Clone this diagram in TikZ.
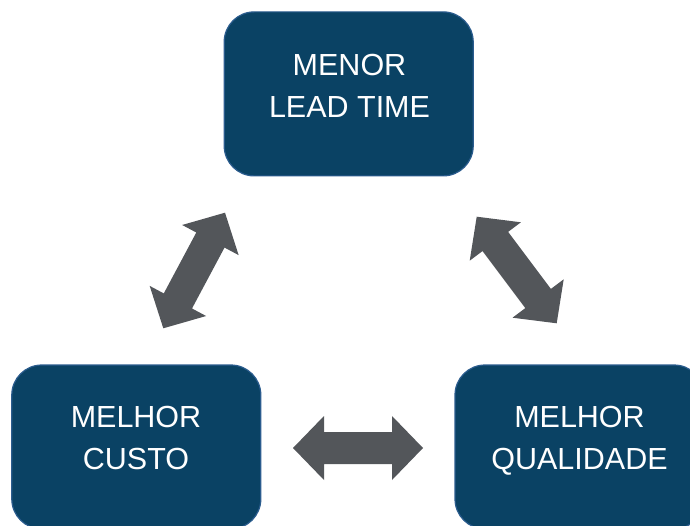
\documentclass[tikz,border=0pt]{standalone}
\usepackage{fontspec}
\setmainfont{Liberation Sans}
\usetikzlibrary{calc}

\definecolor{boxfill}{HTML}{0A4264}
\definecolor{boxedge}{HTML}{2B5C8E}
\definecolor{arrowgray}{HTML}{53565A}

\tikzset{
  goalbox/.style={draw=boxedge, line width=1.2pt, fill=boxfill, rounded corners=30pt,
    minimum width=249pt, minimum height=164pt, inner sep=0pt},
  goaltext/.style={text=white, align=center, inner sep=0pt, anchor=north,
    font=\fontsize{30.5}{41.5}\selectfont},
  arrowfill/.style={fill=arrowgray}
}

% block double arrow between two named coordinates
\newcommand{\blockdblarrow}[2]{%
  \fill[arrowfill] (#1)
    -- ($(#1)!31pt!(#2)!32pt!90:(#2)$)
    -- ($(#1)!31pt!(#2)!16pt!90:(#2)$)
    -- ($(#2)!31pt!(#1)!16pt!-90:(#1)$)
    -- ($(#2)!31pt!(#1)!32pt!-90:(#1)$)
    -- (#2)
    -- ($(#2)!31pt!(#1)!32pt!90:(#1)$)
    -- ($(#2)!31pt!(#1)!16pt!90:(#1)$)
    -- ($(#1)!31pt!(#2)!16pt!-90:(#2)$)
    -- ($(#1)!31pt!(#2)!32pt!-90:(#2)$)
    -- cycle;}

\begin{document}
\begin{tikzpicture}[x=1pt, y=-1pt]
  \useasboundingbox (0,0) rectangle (690,526);
  \clip (0,0) rectangle (690,526);

  % the three goals
  \node[goalbox] (lead) at (348.7,93.9) {};
  \node[goalbox] (cost) at (136.3,447) {};
  \node[goalbox] (quality) at (579.5,447) {};

  \node[goaltext] (leadtxt) at (349.5,54.5) {MENOR\\LEAD TIME};
  \node[goaltext] (costtxt) at (136,406.2) {MELHOR\\CUSTO};
  \node[goaltext] (qualitytxt) at (579.5,406.2) {MELHOR\\QUALIDADE};

  % trade-off arrows between the goals
  \coordinate (cl1) at (163.3,328.3);
  \coordinate (cl2) at (225,212.7);
  \coordinate (lq1) at (476.7,216.7);
  \coordinate (lq2) at (556.7,323.3);
  \coordinate (cq1) at (293,448);
  \coordinate (cq2) at (423,448);

  \blockdblarrow{cl1}{cl2}
  \blockdblarrow{lq1}{lq2}
  \blockdblarrow{cq1}{cq2}
\end{tikzpicture}
\end{document}
